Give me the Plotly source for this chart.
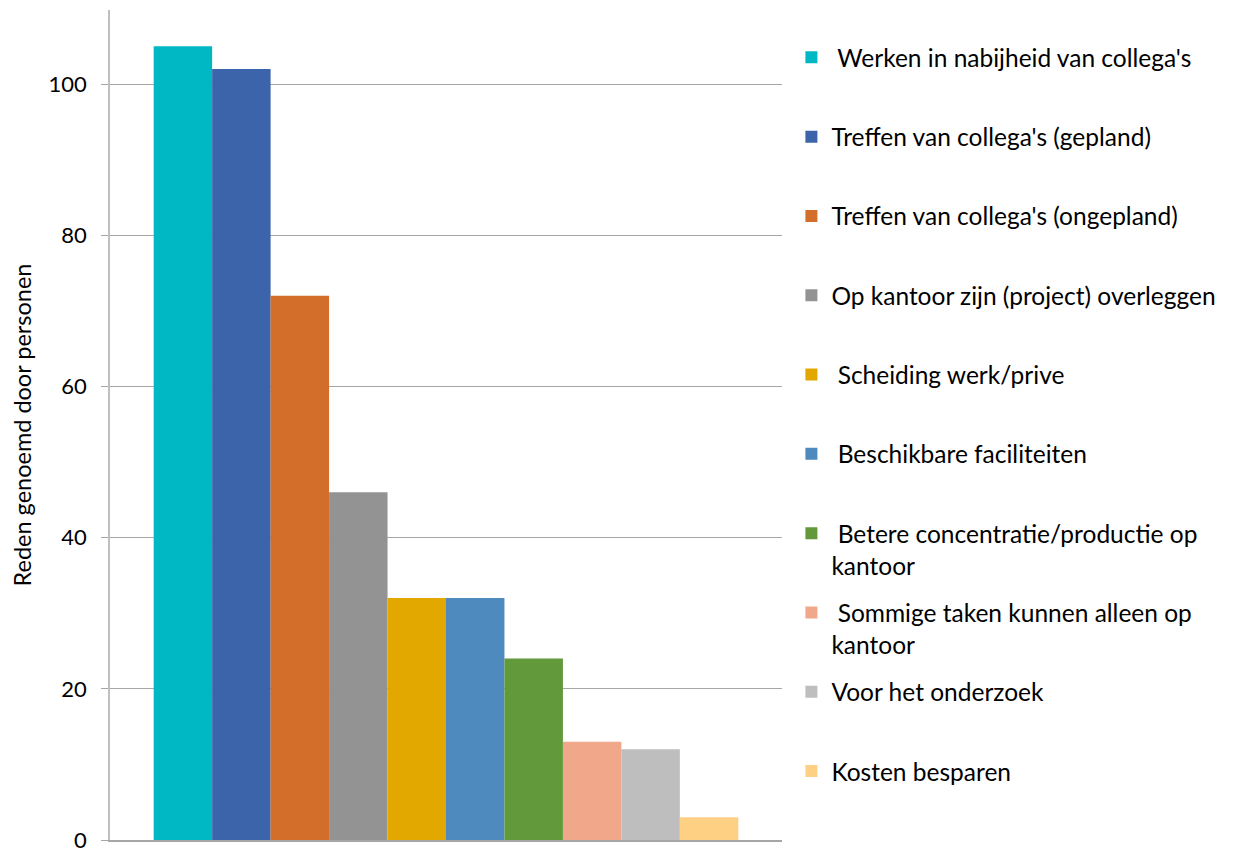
import plotly.graph_objects as go

categories = [
    " Werken in nabijheid van collega's",
    "Treffen van collega's (gepland)",
    "Treffen van collega's (ongepland)",
    "Op kantoor zijn (project) overleggen",
    " Scheiding werk/prive",
    " Beschikbare faciliteiten",
    " Betere concentratie/productie op<br>kantoor",
    " Sommige taken kunnen alleen op<br>kantoor",
    "Voor het onderzoek",
    "Kosten besparen",
]
values = [105, 102, 72, 46, 32, 32, 24, 13, 12, 3]
colors = ["#00B8C4", "#3C64AA", "#D26E2A", "#939393", "#E2A800",
          "#4F8ABE", "#629A3B", "#F0A78A", "#BEBEBE", "#FED083"]
y_title = "Reden genoemd door personen"
y_ticks = [0, 20, 40, 60, 80, 100]

fig = go.Figure()
for i, (name, v, c) in enumerate(zip(categories, values, colors)):
    label = name if "<br>" in name else name + "<br> "
    fig.add_trace(go.Bar(x=[""], y=[v], name=label, marker_color=c,
                         marker_line_width=0, legendgroup=str(i)))

fig.update_layout(
    width=1238, height=849,
    margin=dict(l=102, r=464, t=2, b=17),
    paper_bgcolor="white", plot_bgcolor="white",
    barmode="group", bargap=0.13, bargroupgap=0,
    font=dict(family="Lato, Open Sans, sans-serif", size=22, color="#000000"),
    showlegend=True,
    legend=dict(x=1.014, y=0.970, xanchor="left", yanchor="top",
                traceorder="grouped", tracegroupgap=12.6, valign="top",
                font=dict(size=24.5), itemwidth=30),
    yaxis=dict(range=[0, 109.8], tickvals=y_ticks, showgrid=True,
               gridcolor="#A6A6A6", gridwidth=1,
               showline=True, linecolor="#BFBFBF", linewidth=1.5,
               ticks="outside", ticklen=7, tickcolor="#A6A6A6",
               ticklabelstandoff=10, zeroline=False,
               tickfont=dict(size=22),
               title=dict(text=y_title, font=dict(size=23.5), standoff=12)),
    xaxis=dict(showline=True, linecolor="#A6A6A6", linewidth=1.5,
               showticklabels=False, ticks="", showgrid=False),
)

fig.write_html("out.html")
